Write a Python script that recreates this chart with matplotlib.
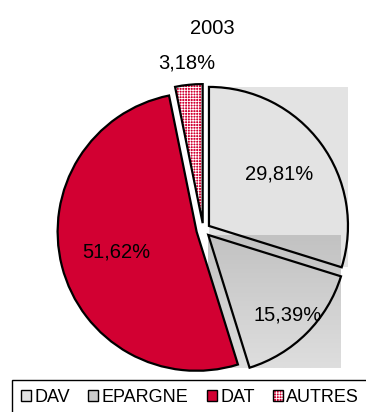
import matplotlib
matplotlib.use('Agg')
import matplotlib.pyplot as plt
import numpy as np
from matplotlib.patches import Rectangle, Wedge, Patch
from matplotlib.colors import LinearSegmentedColormap

plt.rcParams['font.family'] = ['Liberation Sans', 'DejaVu Sans']
plt.rcParams['hatch.linewidth'] = 0.6

title = "2003"
categories = ["DAV", "EPARGNE", "DAT", "AUTRES"]
values = [29.81, 15.39, 51.62, 3.18]

crimson = '#d20032'
dav_color = '#e3e3e3'
ep_top, ep_bottom = '#c2c2c2', '#dedede'
explode = [0.05] * 4
label_dist = [0.63, 0.81, 0.60, 1.16]
lw = 1.6

fig = plt.figure(figsize=(3.66, 4.12), dpi=100)
ax = fig.add_axes([0, 0, 1, 1])
wedges, _ = ax.pie(values, explode=explode, startangle=90, counterclock=False,
                   radius=1, wedgeprops=dict(linewidth=lw, edgecolor='black'))

# DAV: textured fill spilling over its bounding box
w = wedges[0]
bb = w.get_path().get_extents()
ax.add_patch(Rectangle((bb.x0, bb.y0), bb.width, bb.height, facecolor=dav_color,
                       edgecolor='none', zorder=1))
w.set_facecolor('none'); w.set_zorder(3)

# EPARGNE: gradient fill over its bounding box
w = wedges[1]
bb = w.get_path().get_extents()
cmap = LinearSegmentedColormap.from_list('ep', [ep_top, ep_bottom])
ax.imshow(np.linspace(0, 1, 64).reshape(-1, 1), extent=[bb.x0, bb.x1, bb.y0, bb.y1],
          cmap=cmap, aspect='auto', origin='upper', zorder=2)
w.set_facecolor('none'); w.set_zorder(3)

# DAT
wedges[2].set_facecolor(crimson); wedges[2].set_zorder(3)

# AUTRES: crimson with white grid
w = wedges[3]
w.set_facecolor(crimson); w.set_edgecolor('white'); w.set_linewidth(0)
w.set_hatch('++++++'); w.set_zorder(3)
ax.add_patch(Wedge(w.center, w.r, w.theta1, w.theta2, fill=False,
                   edgecolor='black', linewidth=lw, zorder=4))

for w, v, d in zip(wedges, values, label_dist):
    ang = np.deg2rad((w.theta1 + w.theta2) / 2)
    cx, cy = w.center
    ax.text(cx + d * np.cos(ang), cy + d * np.sin(ang),
            f"{v:.2f}%".replace('.', ','), ha='center', va='center',
            fontsize=14.5, zorder=5)

ax.set_xlim(-1.463, 1.170)
ax.set_ylim(-1.309, 1.655)
ax.axis('off')

fig.text(212 / 366, 1 - 28 / 412, title, ha='center', va='center', fontsize=14.5)

handles = [
    Patch(facecolor=dav_color, edgecolor='black', linewidth=1),
    Patch(facecolor='#cdcdcd', edgecolor='black', linewidth=1),
    Patch(facecolor=crimson, edgecolor='black', linewidth=1),
    (Patch(facecolor=crimson, edgecolor='white', linewidth=0, hatch='++++++'),
     Patch(facecolor='none', edgecolor='black', linewidth=1)),
]
leg = fig.legend(handles, categories, loc='upper left',
                 bbox_to_anchor=(12 / 366, 1 - 380 / 412), ncol=4,
                 frameon=True, fancybox=False, edgecolor='black', framealpha=1,
                 handlelength=0.55, handleheight=0.55, handletextpad=0.2,
                 columnspacing=1.0, borderpad=0.5, borderaxespad=0, fontsize=13)
leg.get_frame().set_linewidth(1)

fig.savefig('out.png', dpi=100)
